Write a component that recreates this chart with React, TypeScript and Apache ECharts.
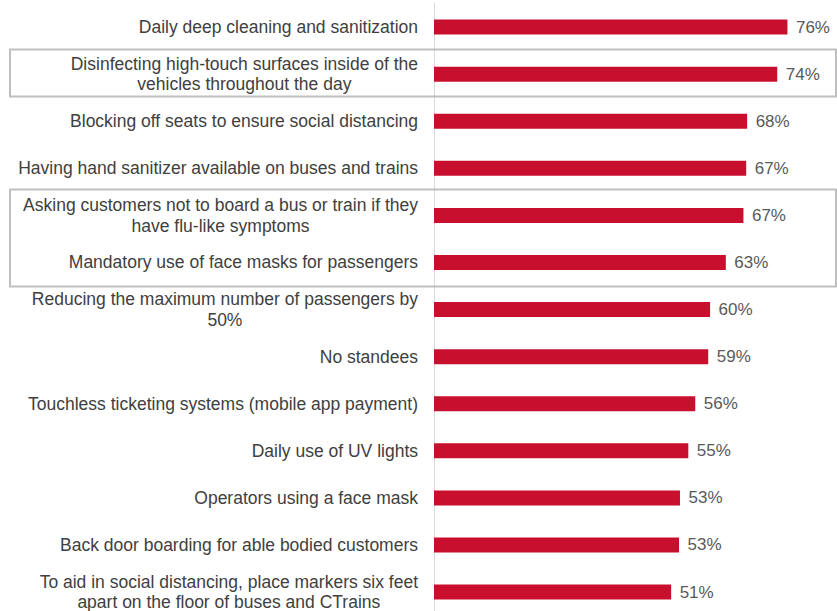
import React, { useEffect, useRef } from "react";
import * as echarts from "echarts";

const categories: string[] = [
  "Daily deep cleaning and sanitization",
  "Disinfecting high-touch surfaces inside of the\nvehicles throughout the day",
  "Blocking off seats to ensure social distancing",
  "Having hand sanitizer available on buses and trains",
  "Asking customers not to board a bus or train if they\nhave flu-like symptoms",
  "Mandatory use of face masks for passengers",
  "Reducing the maximum number of passengers by\n50%",
  "No standees",
  "Touchless ticketing systems (mobile app payment)",
  "Daily use of UV lights",
  "Operators using a face mask",
  "Back door boarding for able bodied customers",
  "To aid in social distancing, place markers six feet\napart on the floor of buses and CTrains",
];

// Bar lengths (labels show the rounded values)
const values: number[] = [76.3, 74.1, 67.6, 67.4, 66.8, 63.0, 59.6, 59.2, 56.4, 54.9, 53.1, 52.9, 51.2];

export default function App() {
  const ref = useRef<HTMLDivElement>(null);
  useEffect(() => {
    if (!ref.current) return;
    const chart = echarts.init(ref.current, undefined, { renderer: "svg" });
    chart.setOption({
      animation: false,
      backgroundColor: "#ffffff",
      grid: { left: 434, right: 0, top: 3.5, bottom: 0.4, containLabel: false },
      xAxis: {
        type: "value",
        min: 0,
        max: 87,
        show: false,
        splitLine: { show: false },
      },
      yAxis: {
        type: "category",
        data: categories,
        inverse: true,
        axisTick: { show: false },
        axisLine: { show: true, lineStyle: { color: "#d9d9d9", width: 1 } },
        axisLabel: {
          margin: 16,
          color: "#404040",
          fontFamily: "Liberation Sans, Arial, sans-serif",
          fontSize: 17.5,
          lineHeight: 20.5,
          align: "right",
          formatter: (v: string) =>
            v
              .split("\n")
              .map((l) => `{c|${l}}`)
              .join("\n"),
          rich: {
            c: {
              align: "center",
              color: "#404040",
              fontFamily: "Liberation Sans, Arial, sans-serif",
              fontSize: 17.5,
              lineHeight: 20.5,
            },
          },
        },
      },
      series: [
        {
          type: "bar",
          data: values,
          barWidth: 15,
          itemStyle: { color: "#C8102E" },
          label: {
            show: true,
            position: "right",
            distance: 8.5,
            formatter: (p: any) => `${Math.round(p.value)}%`,
            color: "#595959",
            fontFamily: "Liberation Sans, Arial, sans-serif",
            fontSize: 17,
          },
        },
      ],
      graphic: [
        {
          type: "rect",
          shape: { x: 10, y: 49.5, width: 826, height: 47 },
          style: { fill: "none", stroke: "#bfbfbf", lineWidth: 2 },
          z: 10,
        },
        {
          type: "rect",
          shape: { x: 10, y: 189.5, width: 826, height: 97 },
          style: { fill: "none", stroke: "#bfbfbf", lineWidth: 2 },
          z: 10,
        },
      ],
    });
    return () => chart.dispose();
  }, []);
  return (
    <div
      ref={ref}
      style={{ position: "fixed", left: 0, top: 0, width: 837, height: 616 }}
    />
  );
}
